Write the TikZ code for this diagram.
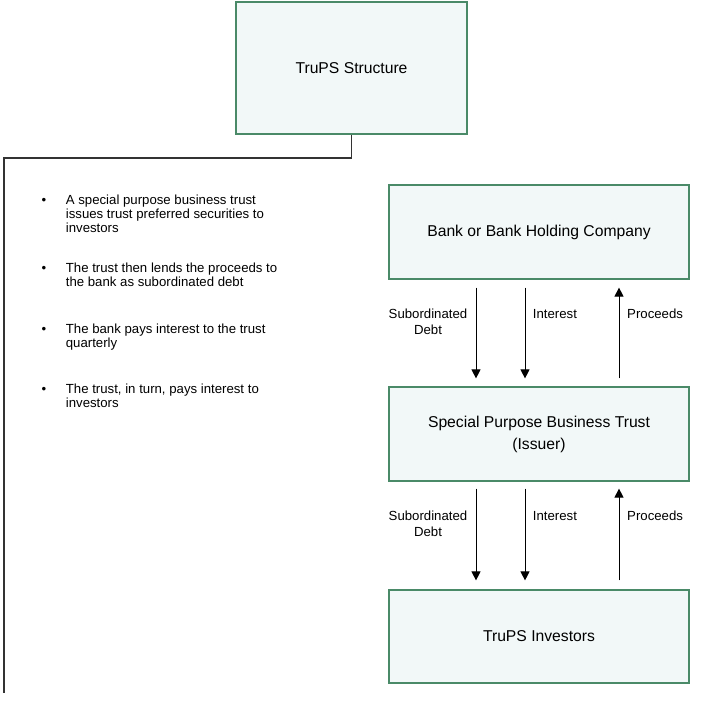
\documentclass[tikz,border=0pt]{standalone}
\usepackage{fontspec}
\setmainfont{Liberation Sans}
\usetikzlibrary{arrows.meta}
\definecolor{boxfill}{HTML}{F2F8F8}
\definecolor{boxline}{HTML}{4A8A68}
\definecolor{connline}{HTML}{333333}
\begin{document}
\begin{tikzpicture}[x=1pt,y=-1pt,
  box/.style={draw=boxline, fill=boxfill, line width=1.2pt, inner sep=0pt, align=center, font=\fontsize{15.7}{22}\selectfont},
  flow/.style={draw=black, line width=1pt, -{Triangle[length=9pt,width=9pt]}},
  conn/.style={draw=connline, line width=1.3pt},
  lbl/.style={font=\fontsize{13.2}{16.5}\selectfont, inner sep=0pt},
  btxt/.style={font=\fontsize{13.2}{14.2}\selectfont, inner sep=0pt, align=left, anchor=base west},
  bul/.style={font=\fontsize{13.2}{14.2}\selectfont, inner sep=0pt, anchor=base}]
\useasboundingbox (0,0) rectangle (708,702);
% boxes
\node[box, minimum width=231pt, minimum height=132pt] (top) at (351.5,68) {TruPS Structure};
\node[box, minimum width=300pt, minimum height=94pt] (bank) at (539,232) {Bank or Bank Holding Company};
\node[box, minimum width=300pt, minimum height=94pt] (spbt) at (539,434) {Special Purpose Business Trust\\(Issuer)};
\node[box, minimum width=300pt, minimum height=93pt] (inv) at (539,636.5) {TruPS Investors};
% left connector
\coordinate (corner) at (4,158);
\coordinate (lineend) at (4,693);
\draw[conn] (top.south) |- (corner) -- (lineend);
% bullets (base anchor = baseline of last line)
\node[bul] (d1) at (44,204) {•};
\node[btxt] (b1) at (65.7,232.4) {A special purpose business trust\\issues trust preferred securities to\\investors};
\node[bul] (d2) at (44,272) {•};
\node[btxt] (b2) at (65.7,286.2) {The trust then lends the proceeds to\\the bank as subordinated debt};
\node[bul] (d3) at (44,333) {•};
\node[btxt] (b3) at (65.7,347.2) {The bank pays interest to the trust\\quarterly};
\node[bul] (d4) at (44,393) {•};
\node[btxt] (b4) at (65.7,407.2) {The trust, in turn, pays interest to\\investors};
% arrows between bank and trust
\draw[flow] ([xshift=-63pt,yshift=-8pt]bank.south) -- ([xshift=-63pt,yshift=8pt]spbt.north);
\draw[flow] ([xshift=-14pt,yshift=-8pt]bank.south) -- ([xshift=-14pt,yshift=8pt]spbt.north);
\draw[flow] ([xshift=80pt,yshift=8pt]spbt.north) -- ([xshift=80pt,yshift=-8pt]bank.south);
\node[lbl, align=center, anchor=base] (l1) at (428,334.5) {Subordinated\\Debt};
\node[lbl, anchor=base west] (l2) at (532.7,318) {Interest};
\node[lbl, anchor=base west] (l3) at (627,318) {Proceeds};
% arrows between trust and investors
\draw[flow] ([xshift=-63pt,yshift=-7pt]spbt.south) -- ([xshift=-63pt,yshift=9pt]inv.north);
\draw[flow] ([xshift=-14pt,yshift=-7pt]spbt.south) -- ([xshift=-14pt,yshift=9pt]inv.north);
\draw[flow] ([xshift=80pt,yshift=9pt]inv.north) -- ([xshift=80pt,yshift=-7pt]spbt.south);
\node[lbl, align=center, anchor=base] (l4) at (428,536.5) {Subordinated\\Debt};
\node[lbl, anchor=base west] (l5) at (532.7,520) {Interest};
\node[lbl, anchor=base west] (l6) at (627,520) {Proceeds};
\end{tikzpicture}
\end{document}
